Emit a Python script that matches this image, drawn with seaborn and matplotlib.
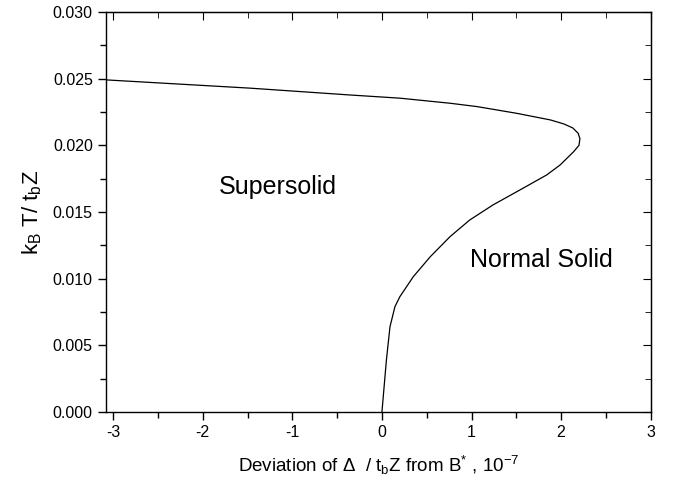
import numpy as np
import pandas as pd
import matplotlib
matplotlib.use("Agg")
import matplotlib.pyplot as plt
from matplotlib.ticker import MultipleLocator, FormatStrFormatter
import seaborn as sns

# phase boundary
deviation = [-3.08, -1.47, -0.36, 0.20, 0.76, 1.06, 1.50, 1.88, 2.03, 2.13, 2.19, 2.21,
             2.20, 2.14, 1.99, 1.84, 1.54, 1.24, 0.98, 0.76, 0.54, 0.35, 0.20, 0.145,
             0.09, 0.05, 0.00]
temperature = [0.0249, 0.02428, 0.02377, 0.02353, 0.02315, 0.0229, 0.0224, 0.0219,
               0.0216, 0.0213, 0.0209, 0.0205, 0.0200, 0.01952, 0.01853, 0.01778,
               0.01665, 0.01553, 0.0144, 0.01315, 0.01165, 0.01015, 0.00865, 0.0079,
               0.0064, 0.0039, 0.0]

phase_names = ["Supersolid", "Normal Solid"]
phase_x = [-1.16, 1.78]
phase_y = [0.0169, 0.0114]

sns.set_style("ticks")
plt.rcParams['font.family'] = ['Liberation Sans', 'DejaVu Sans']
plt.rcParams['mathtext.default'] = 'regular'
plt.rcParams['axes.unicode_minus'] = False
for key in ['text.color', 'axes.labelcolor', 'xtick.color', 'ytick.color', 'axes.edgecolor']:
    plt.rcParams[key] = 'black'

df = pd.DataFrame({'dev': deviation, 'T': temperature})

fig = plt.figure(figsize=(6.75, 4.93), dpi=100)
ax = fig.add_axes([0.157, 0.164, 0.807, 0.812])

sns.lineplot(data=df, x='dev', y='T', sort=False, estimator=None,
             color='black', lw=0.9, ax=ax)

for name, px, py in zip(phase_names, phase_x, phase_y):
    ax.text(px, py, name, fontsize=18, ha='center', va='center')

ax.set_xlim(-3.08, 3.0)
ax.set_ylim(0, 0.030)
ax.xaxis.set_major_locator(MultipleLocator(1))
ax.xaxis.set_minor_locator(MultipleLocator(0.5))
ax.yaxis.set_major_locator(MultipleLocator(0.005))
ax.yaxis.set_minor_locator(MultipleLocator(0.0025))
ax.yaxis.set_major_formatter(FormatStrFormatter('%.3f'))

ax.tick_params(which='major', length=6, width=1, labelsize=11.5, direction='out')
ax.tick_params(which='minor', length=4, width=1, direction='out')
for side in ax.spines.values():
    side.set_linewidth(1)
    side.set_visible(True)

# inward ticks on top and right
top = ax.secondary_xaxis('top')
top.xaxis.set_major_locator(MultipleLocator(1))
top.xaxis.set_minor_locator(MultipleLocator(0.5))
top.tick_params(which='major', direction='in', length=6, labeltop=False)
top.tick_params(which='minor', direction='in', length=4)
right = ax.secondary_yaxis('right')
right.yaxis.set_major_locator(MultipleLocator(0.005))
right.yaxis.set_minor_locator(MultipleLocator(0.0025))
right.tick_params(which='major', direction='in', length=6, labelright=False)
right.tick_params(which='minor', direction='in', length=4)

ax.set_xlabel(r'Deviation of $\Delta$  / $t_b$Z from B$^{*}$ , 10$^{-7}$', fontsize=13.5, labelpad=10)
ax.set_ylabel(r'$k_B$ T/ $t_b$Z', fontsize=16, labelpad=6)

fig.savefig('out.png', dpi=100)
